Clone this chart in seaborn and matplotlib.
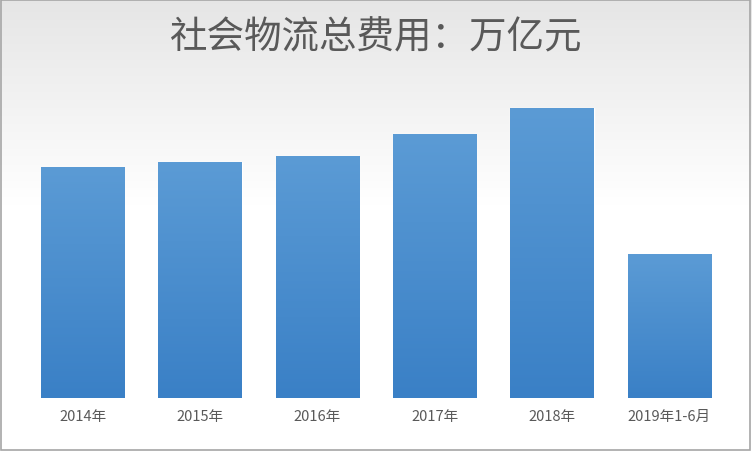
import matplotlib
matplotlib.use("Agg")
import matplotlib.pyplot as plt
import seaborn as sns
import numpy as np
import pandas as pd
from matplotlib.patches import Rectangle

categories = ["2014年", "2015年", "2016年", "2017年", "2018年", "2019年1-6月"]
values = [10.6, 10.8, 11.1, 12.1, 13.3, 6.6]
title = "社会物流总费用：万亿元"

sns.set_theme(style="white")
plt.rcParams['font.family'] = ['Noto Sans CJK SC', 'DejaVu Sans']

fig = plt.figure(figsize=(7.52, 4.52), dpi=100)
bg = fig.add_axes([0, 0, 1, 1], zorder=-5)
grad = np.linspace(0, 1, 256).reshape(-1, 1)
bg.imshow(np.dstack([1 - 0.1 * np.clip(1 - grad * 2.2, 0, 1)] * 3), aspect="auto",
          extent=[0, 1, 0, 1], origin="upper")
bg.add_patch(Rectangle((0.001, 0.002), 0.997, 0.995, fill=False, ec="#A6A6A6", lw=1.2,
                       transform=bg.transAxes))
bg.axis("off")

ax = fig.add_axes([0.032, 0.117, 0.936, 0.683])
ax.patch.set_alpha(0)
df = pd.DataFrame({"cat": categories, "val": values})
sns.barplot(data=df, x="cat", y="val", color="#4E93D3", width=0.71, saturation=1, ax=ax)
ax.set_ylim(0, 14.15)
cmap = matplotlib.colors.LinearSegmentedColormap.from_list("b", ["#3A80C6", "#5B9BD5"])
for p in list(ax.patches):
    x0, w, h = p.get_x(), p.get_width(), p.get_height()
    im = ax.imshow(np.linspace(0, 1, 100).reshape(-1, 1), cmap=cmap, aspect="auto",
                   extent=[x0, x0 + w, 0, h], origin="lower", zorder=3)
    im.set_clip_path(p)
ax.set_xlim(-0.5, len(categories) - 0.5)
ax.set_xlabel("")
ax.set_ylabel("")
ax.set_yticks([])
for s in ax.spines.values():
    s.set_visible(False)
ax.tick_params(axis="x", colors="#595959", labelsize=10.5, length=0, pad=8)
fig.text(0.5, 0.915, title, ha="center", va="center", fontsize=27, color="#595959")
fig.savefig("out.png", dpi=100)
